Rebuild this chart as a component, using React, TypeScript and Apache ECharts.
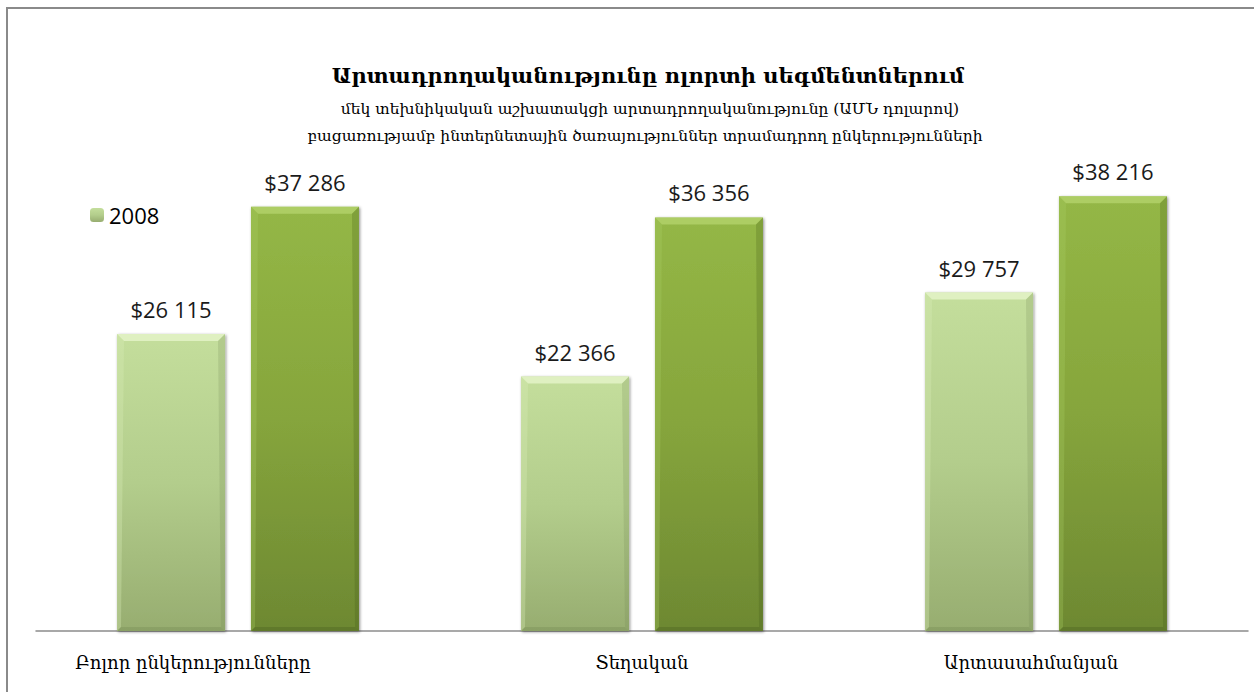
import React, { useEffect, useRef } from "react";
import * as echarts from "echarts";

const categories = ["Բոլոր ընկերությունները", "Տեղական", "Արտասահմանյան"];
const values2008 = [26115, 22366, 29757];
const valuesOther = [37286, 36356, 38216];
const legendNames = ["2008"];
const titleText = "Արտադրողականությունը ոլորտի սեգմենտներում";
const subLine1 = "մեկ տեխնիկական աշխատակցի արտադրողականությունը (ԱՄՆ դոլարով)";
const subLine2 = "բացառությամբ ինտերնետային ծառայություններ տրամադրող ընկերությունների";

const fmt = (v: number) => {
  const s = String(Math.round(v));
  return "$" + s.replace(/\B(?=(\d{3})+(?!\d))/g, " ");
};

const armFont = "'DejaVu Serif', serif";
const numFont = "'Open Sans', 'Liberation Sans', sans-serif";

export default function App() {
  const ref = useRef<HTMLDivElement>(null);
  useEffect(() => {
    if (!ref.current) return;
    const chart = echarts.init(ref.current, undefined, { renderer: "svg" });
    const lightGrad = new echarts.graphic.LinearGradient(0, 0, 0, 1, [
      { offset: 0, color: "#c4de9c" },
      { offset: 0.5, color: "#b3cd8c" },
      { offset: 1, color: "#97ad70" },
    ]);
    const darkGrad = new echarts.graphic.LinearGradient(0, 0, 0, 1, [
      { offset: 0, color: "#94b746" },
      { offset: 0.5, color: "#86a53c" },
      { offset: 1, color: "#6d8832" },
    ]);
    const bevel = (topC: string, leftC: string, rightC: string, bottomC: string) => (params: any, api: any) => {
      const top = api.coord([api.value(0), api.value(1)]);
      const base = api.coord([api.value(0), 0]);
      const barW = 108;
      const gap = 26;
      const cx = top[0] + api.value(2) * ((barW + gap) / 2);
      const x0 = cx - barW / 2;
      const x1 = cx + barW / 2;
      const y0 = top[1];
      const y1 = base[1];
      const b = 7;
      const s = 4;
      return {
        type: "group",
        silent: true,
        children: [
          {
            type: "polygon",
            shape: { points: [[x0, y0], [x1, y0], [x1 - b, y0 + b], [x0 + b, y0 + b]] },
            style: { fill: topC },
          },
          {
            type: "polygon",
            shape: { points: [[x0, y0], [x0 + b, y0 + b], [x0 + s, y1 - s], [x0, y1]] },
            style: { fill: leftC },
          },
          {
            type: "polygon",
            shape: { points: [[x1, y0], [x1 - b, y0 + b], [x1 - s, y1 - s], [x1, y1]] },
            style: { fill: rightC },
          },
          {
            type: "polygon",
            shape: { points: [[x0, y1], [x0 + s, y1 - s], [x1 - s, y1 - s], [x1, y1]] },
            style: { fill: bottomC },
          },
        ],
      };
    };
    const catShift = [90, 0, 30];
    chart.setOption({
      animation: false,
      backgroundColor: "#ffffff",
      title: [
        {
          text: titleText,
          left: 643,
          top: 60,
          textAlign: "center",
          textStyle: { fontFamily: armFont, fontSize: 21, fontWeight: "bold", color: "#000" },
        },
        {
          text: subLine1,
          left: 645,
          top: 96,
          textAlign: "center",
          textStyle: { fontFamily: armFont, fontSize: 15.5, fontWeight: "normal", color: "#000" },
        },
        {
          text: subLine2,
          left: 640,
          top: 123,
          textAlign: "center",
          textStyle: { fontFamily: armFont, fontSize: 15.5, fontWeight: "normal", color: "#000" },
        },
      ],
      legend: {
        data: legendNames,
        left: 85,
        top: 199,
        itemWidth: 14,
        itemHeight: 14,
        itemGap: 4,
        textStyle: { fontFamily: numFont, fontSize: 22, color: "#000" },
      },
      graphic: [
        {
          type: "rect",
          shape: { x: 7, y: 8, width: 1260, height: 700 },
          style: { fill: "none", stroke: "#8a8a8a", lineWidth: 2 },
          silent: true,
        },
      ],
      grid: { left: 36, right: 6, top: 176, bottom: 61, containLabel: false },
      xAxis: {
        type: "category",
        data: categories,
        axisLine: { show: true, lineStyle: { color: "#8c8c8c", width: 1.5 } },
        axisTick: { show: false },
        axisLabel: {
          margin: 22,
          formatter: (v: string, i: number) => `{c${i}|${v}}`,
          rich: {
            c0: { fontFamily: armFont, fontSize: 18, color: "#000", padding: [0, catShift[0], 0, 0] },
            c1: { fontFamily: armFont, fontSize: 18, color: "#000", padding: [0, catShift[1], 0, 0] },
            c2: { fontFamily: armFont, fontSize: 18, color: "#000", padding: [0, catShift[2], 0, 0] },
          },
        },
      },
      yAxis: {
        type: "value",
        min: 0,
        max: 40000,
        show: false,
        splitLine: { show: false },
      },
      series: [
        {
          name: "2008",
          type: "bar",
          data: values2008,
          barWidth: 108,
          barGap: "24%",
          itemStyle: {
            color: lightGrad,
            shadowColor: "rgba(0,0,0,0.45)",
            shadowBlur: 3,
            shadowOffsetX: 1,
            shadowOffsetY: 1,
          },
          label: {
            show: true,
            position: "top",
            distance: 14,
            formatter: (p: any) => fmt(p.value),
            fontFamily: numFont,
            fontSize: 22,
            color: "#1a1a1a",
          },
        },
        {
          name: "2009",
          type: "bar",
          data: valuesOther,
          barWidth: 108,
          itemStyle: {
            color: darkGrad,
            shadowColor: "rgba(0,0,0,0.45)",
            shadowBlur: 3,
            shadowOffsetX: 1,
            shadowOffsetY: 1,
          },
          label: {
            show: true,
            position: "top",
            distance: 14,
            formatter: (p: any) => fmt(p.value),
            fontFamily: numFont,
            fontSize: 22,
            color: "#1a1a1a",
          },
        },
        {
          type: "custom",
          renderItem: bevel(
            "rgba(232,246,205,0.75)",
            "rgba(215,235,180,0.35)",
            "rgba(110,130,80,0.2)",
            "rgba(90,110,60,0.2)"
          ),
          data: values2008.map((v, i) => [i, v, -1]),
          silent: true,
          z: 3,
        },
        {
          type: "custom",
          renderItem: bevel(
            "rgba(190,220,120,0.6)",
            "rgba(170,205,100,0.3)",
            "rgba(60,80,20,0.22)",
            "rgba(50,70,20,0.22)"
          ),
          data: valuesOther.map((v, i) => [i, v, 1]),
          silent: true,
          z: 3,
        },
      ],
    });
    return () => chart.dispose();
  }, []);
  return (
    <div
      ref={ref}
      style={{ position: "absolute", left: 0, top: 0, width: 1254, height: 692 }}
    />
  );
}
